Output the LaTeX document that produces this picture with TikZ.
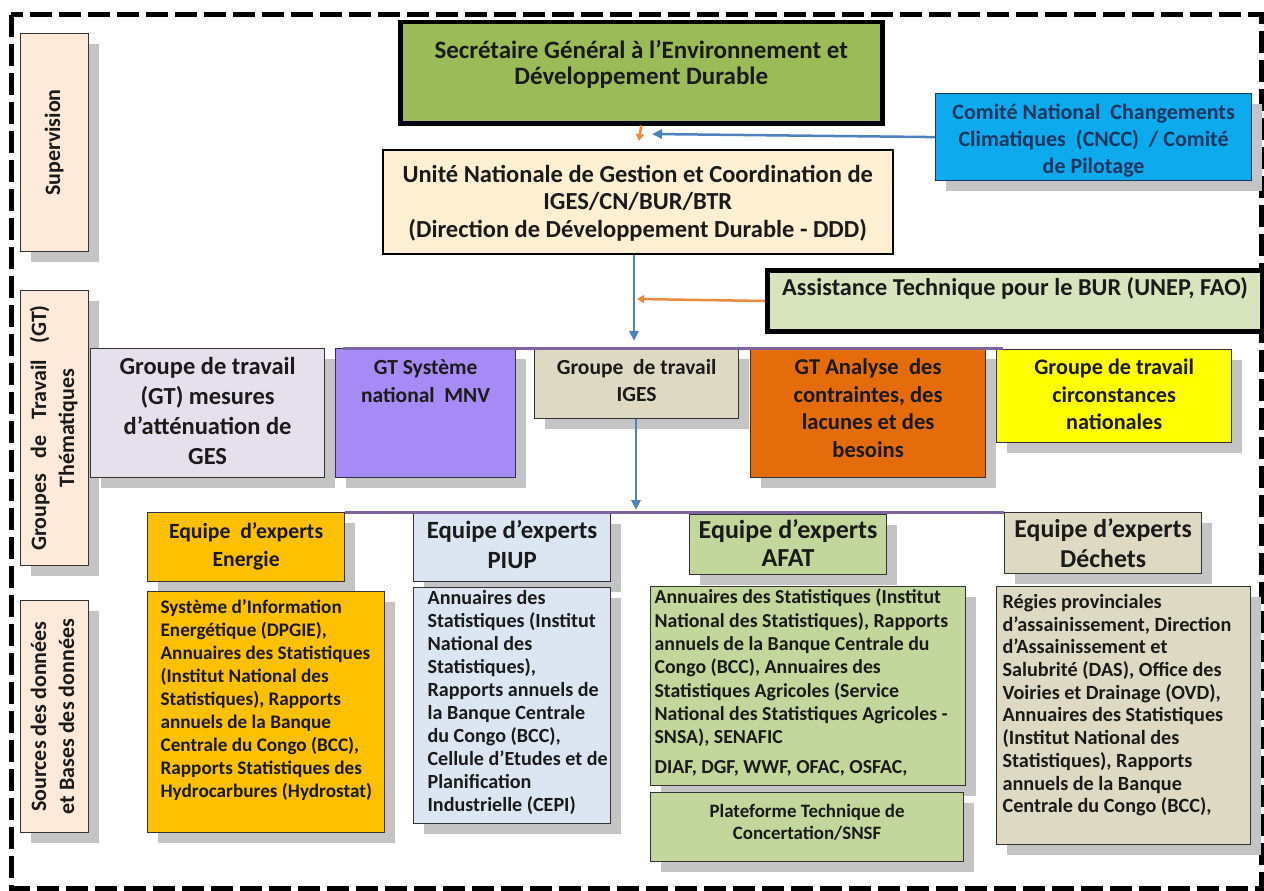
\documentclass[tikz,border=0pt]{standalone}
\usepackage{fontspec}
\setmainfont{Carlito}
\usetikzlibrary{
  arrows.meta,
  positioning,
  shadows
}
\definecolor{ink}{HTML}{1A1A1A}
\definecolor{navyInk}{HTML}{17375E}
\definecolor{edge}{HTML}{333333}
\definecolor{shade}{HTML}{C4C4C4}
\definecolor{sidePeach}{HTML}{FDEADA}
\definecolor{sgGreen}{HTML}{9BBB59}
\definecolor{uncCream}{HTML}{FDEFD2}
\definecolor{cnccBlue}{HTML}{0DAAEE}
\definecolor{assistGreen}{HTML}{D7E4BD}
\definecolor{gtLilac}{HTML}{E6E0EC}
\definecolor{gtViolet}{HTML}{A68BF6}
\definecolor{gtBeige}{HTML}{DDD9C3}
\definecolor{gtOrange}{HTML}{E46C0A}
\definecolor{gtYellow}{HTML}{FFFF00}
\definecolor{eqGold}{HTML}{FFC000}
\definecolor{eqBlue}{HTML}{DCE6F2}
\definecolor{eqGreen}{HTML}{C3D69B}
\definecolor{arrowBlue}{HTML}{4F81BD}
\definecolor{arrowOrange}{HTML}{F08A3E}
\definecolor{busPurple}{HTML}{7F64A2}

\newcommand{\setfs}[2]{\fontsize{#1}{#2}\selectfont}
% centred / left cells: width, height, top gap, (margin,) lines
\newcommand{\cellc}[4]{\parbox[c][#2][t]{#1}{\vspace*{#3}\centering\strut #4\par}}
\newcommand{\celll}[5]{\parbox[c][#2][t]{#1}{\vspace*{#3}\hspace*{#4}\vtop{\hsize=400pt\raggedright\noindent\strut #5\par}\par}}
\newcommand{\wsp}{\hspace{16pt}}

\begin{document}
\begin{tikzpicture}[x=1pt, y=-1pt,
      box/.style={
        draw=edge, line width=1.2pt, inner sep=0pt, anchor=north west, text=ink,
        drop shadow={shadow xshift=10pt, shadow yshift=-10pt, fill=shade, opacity=1}
      },
      heavy/.style={draw=black, line width=4.5pt, inner sep=0pt, anchor=north west, text=ink},
      side/.style={box, fill=sidePeach, minimum width=68pt, font=\bfseries\setfs{22}{28}},
      frame/.style={line width=5pt, dash pattern=on 22pt off 7pt},
      flowBlue/.style={-{Triangle[length=10pt,width=9pt]}, line width=2.5pt, draw=arrowBlue},
      flowOrange/.style={-{Triangle[length=7pt,width=8pt]}, line width=2.5pt, draw=arrowOrange},
      bus/.style={line width=3pt, draw=busPurple}
    ]
      \useasboundingbox (0,0) rectangle (1264,891);
      \draw[frame] (11,15) rectangle (1261,888);

      % Row labels
      \node[side, minimum height=218pt] (lblSup) at (20,33)
        {\rotatebox{90}{\begin{tabular}{@{}c@{}}Supervision\end{tabular}}};
      \node[side, minimum height=275pt] (lblGt) at (20,290)
        {\rotatebox{90}{\begin{tabular}{@{}c@{}}Groupes\wsp de\wsp Travail\wsp (GT)\\Thématiques\end{tabular}}};
      \node[side, minimum height=232pt] (lblSrc) at (20,600)
        {\rotatebox{90}{\begin{tabular}{@{}c@{}}Sources des données\\et Bases des données\end{tabular}}};

      % Supervision
      \node[heavy, fill=sgGreen, font=\bfseries\setfs{25}{25}] (sgedd) at (398,20)
        {\cellc{482pt}{101pt}{18pt}{Secrétaire Général à l’Environnement et\\Développement Durable}};
      \node[box, fill=cnccBlue, text=navyInk, draw=navyInk, font=\bfseries\setfs{22}{27}] (cncc) at (935,93)
        {\cellc{316pt}{87pt}{7pt}{Comité National\ \ Changements\\Climatiques\ \ (CNCC)\ \ / Comité\\de Pilotage}};
      \node[draw=black, line width=1.5pt, inner sep=0pt, anchor=north west, text=ink, fill=uncCream,
        font=\bfseries\setfs{24.5}{27.5}] (unc) at (382,149)
        {\cellc{510pt}{104pt}{13pt}{Unité Nationale de Gestion et Coordination de\\IGES/CN/BUR/BTR\\(Direction de Développement Durable - DDD)}};
      \node[heavy, line width=5pt, fill=assistGreen, font=\bfseries\setfs{24.3}{26}] (assist) at (765,268)
        {\cellc{495pt}{61pt}{7pt}{Assistance Technique pour le BUR (UNEP, FAO)}};

      % Groupes de travail
      \node[box, fill=gtLilac, font=\bfseries\setfs{24.5}{30}] (gtAtt) at (90,348)
        {\cellc{234pt}{129pt}{5pt}{Groupe de travail\\(GT) mesures\\d’atténuation de\\GES}};
      \node[box, fill=gtViolet, font=\bfseries\setfs{21.5}{28}] (gtMnv) at (335,348)
        {\cellc{180pt}{129pt}{6pt}{GT Système\\national\ \ MNV}};
      \node[box, fill=gtBeige, font=\bfseries\setfs{21.5}{27}] (gtIges) at (534,348)
        {\cellc{204pt}{70pt}{7pt}{Groupe\ \ de travail\\IGES}};
      \node[box, fill=gtOrange, font=\bfseries\setfs{22.6}{27.5}] (gtAnalyse) at (750,348)
        {\cellc{235pt}{129pt}{7pt}{GT Analyse\ \ des\\contraintes, des\\lacunes et des\\besoins}};
      \node[box, fill=gtYellow, font=\bfseries\setfs{22.2}{27.5}] (gtCirc) at (996,349)
        {\cellc{235pt}{93pt}{6pt}{Groupe de travail\\circonstances\\nationales}};

      % Equipes d'experts
      \node[box, fill=eqGold, font=\bfseries\setfs{21.7}{28}] (eqEnergie) at (147,512)
        {\cellc{197pt}{69pt}{6pt}{Equipe\ \ d’experts\\Energie}};
      \node[box, fill=eqBlue, font=\bfseries\setfs{24.8}{30}] (eqPiup) at (413,513)
        {\cellc{197pt}{68pt}{4pt}{Equipe d’experts\\PIUP}};
      \node[box, fill=eqGreen, font=\bfseries\setfs{26}{28}] (eqAfat) at (689,514)
        {\cellc{197pt}{60pt}{4pt}{Equipe d’experts\\AFAT}};
      \node[box, fill=gtBeige, font=\bfseries\setfs{25.8}{30}] (eqDechets) at (1004,512)
        {\cellc{197pt}{61pt}{4pt}{Equipe d’experts\\Déchets}};

      % Sources
      \node[box, fill=eqGold, font=\bfseries\setfs{19.2}{23}] (srcEnergie) at (147,591)
        {\celll{237pt}{241pt}{6pt}{13pt}{Système d’Information\\Energétique (DPGIE),\\Annuaires des Statistiques\\(Institut National des\\Statistiques), Rapports\\annuels de la Banque\\Centrale du Congo (BCC),\\Rapports Statistiques des\\Hydrocarbures (Hydrostat)}};
      \node[box, fill=eqBlue, font=\bfseries\setfs{20.1}{23}] (srcPiup) at (413,587)
        {\celll{197pt}{236pt}{1pt}{14pt}{Annuaires des\\Statistiques (Institut\\National des\\Statistiques),\\Rapports annuels de\\la Banque Centrale\\du Congo (BCC),\\Cellule d’Etudes et de\\Planification\\Industrielle (CEPI)}};
      \node[box, fill=eqGreen, font=\bfseries\setfs{19.8}{23.3}] (srcAfat) at (650,586)
        {\celll{315pt}{199pt}{1pt}{4pt}{Annuaires des Statistiques (Institut\\National des Statistiques), Rapports\\annuels de la Banque Centrale du\\Congo (BCC), Annuaires des\\Statistiques Agricoles (Service\\National des Statistiques Agricoles -\\SNSA), SENAFIC\\[6pt]DIAF, DGF, WWF, OFAC, OSFAC,}};
      \node[box, fill=eqGreen, font=\bfseries\setfs{18.9}{22}] (ptcAfat) at (650,792)
        {\cellc{313pt}{69pt}{9pt}{Plateforme Technique de\\Concertation/SNSF}};
      \node[box, fill=gtBeige, font=\bfseries\setfs{20.2}{22.7}] (srcDechets) at (996,586)
        {\celll{254pt}{258pt}{6pt}{6pt}{Régies provinciales\\d’assainissement, Direction\\d’Assainissement et\\Salubrité (DAS), Office des\\Voiries et Drainage (OVD),\\Annuaires des Statistiques\\(Institut National des\\Statistiques), Rapports\\annuels de la Banque\\Centrale du Congo (BCC),}};

      % Bus lines
      \draw[bus] ([xshift=8pt]gtMnv.north west) -- ([xshift=7pt]gtCirc.north west |- gtMnv.north);
      \draw[bus] (eqEnergie.north east) -- (eqDechets.north west);

      % Arrows
      \coordinate (supTip) at (639,141);
      \coordinate (cnccTip) at (652,134);
      \coordinate (hubGt) at (634,341);
      \coordinate (assistTip) at (637,299);
      \coordinate (hubEq) at (636,510);
      \draw[flowOrange] (sgedd.south) -- (supTip);
      \draw[flowBlue] (cncc.west) -- (cnccTip);
      \draw[flowBlue] (unc.south -| hubGt) -- (hubGt);
      \draw[flowOrange] (assist.west) -- (assistTip);
      \draw[flowBlue] (gtIges.south -| hubEq) -- (hubEq);
    \end{tikzpicture}
\end{document}
